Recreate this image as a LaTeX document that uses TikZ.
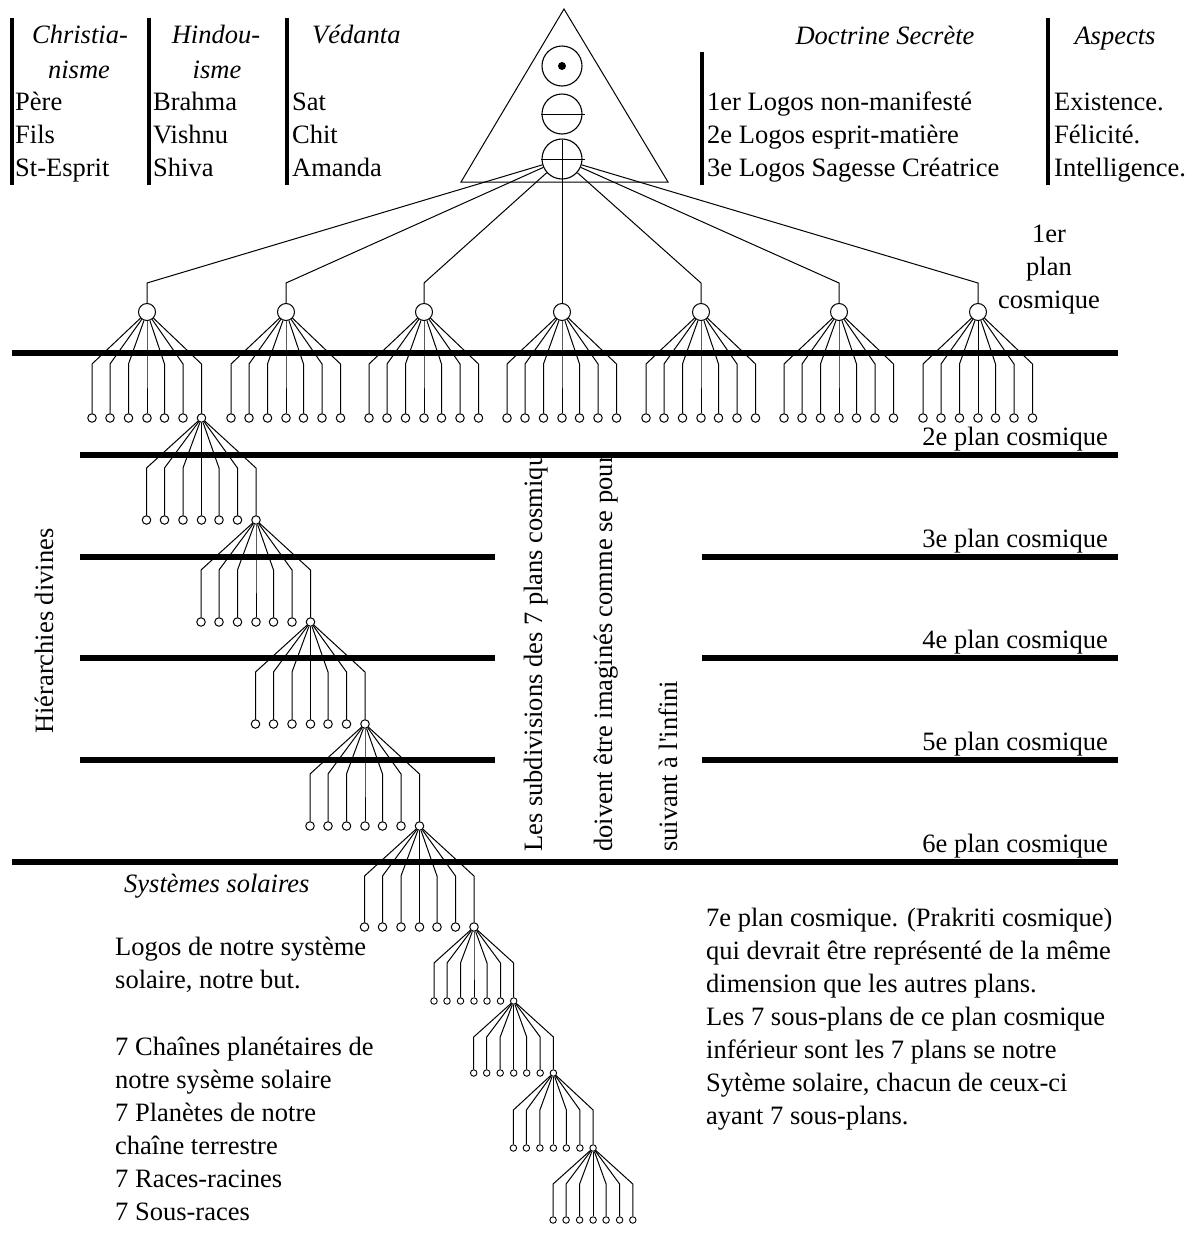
\documentclass[tikz,border=0pt]{standalone}
\usepackage{fontspec}
\setmainfont{Liberation Serif}
\tikzset{
  T/.style={font=\fontsize{26.5}{31}\selectfont, inner sep=0pt},
  tl/.style={T, anchor=base west},
  tc/.style={T, anchor=base},
  tr/.style={T, anchor=base east},
  hd/.style={T, anchor=base, font=\fontsize{26.5}{31}\selectfont\itshape},
  vt/.style={T, rotate=90, anchor=base west},
  bar/.style={line width=4.5pt},
  plane/.style={line width=6pt},
  ln/.style={line width=1pt},
  topn/.style={circle, draw, fill=white, line width=1pt, inner sep=0pt, minimum size=17pt},
  leafL/.style={circle, draw, fill=white, line width=1pt, inner sep=0pt, minimum size=8.5pt},
  leafS/.style={circle, draw, fill=white, line width=0.9pt, inner sep=0pt, minimum size=6.5pt},
  big/.style={circle, draw, line width=1.1pt, inner sep=0pt, minimum size=40pt},
}
\def\bigdx{-55,-37,-18.5,0,17.5,36,54.5}
\def\smalldx{-40,-27,-13.5,0,13,26.5,39.7}
% #1 prefix, #2 parent, #3 dx list, #4 elbow dy, #5 leaf dy, #6 leaf style
\newcommand\drawfan[6]{%
  \foreach \d [count=\i] in #3 {%
    \coordinate (#1e\i) at ([shift={(\d,#4)}]#2.center);
    \node[#6] (#1l\i) at ([shift={(\d,#5)}]#2.center) {};
    \draw[ln] (#2) -- (#1e\i) -- (#1l\i);
  }%
}
\begin{document}
\begin{tikzpicture}[x=1pt,y=-1pt]
\useasboundingbox (0,0) rectangle (1196,1256);

% ---------- header bars ----------
\draw[bar] (12,18) -- (12,185);
\draw[bar] (149,18) -- (149,185);
\draw[bar] (287,18) -- (287,185);
\draw[bar] (702,52) -- (702,185);
\draw[bar] (1048,18) -- (1048,185);

% ---------- header texts ----------
\node[hd] (h1a) at (80,43) {Christia-};
\node[hd] (h1b) at (79,78) {nisme};
\node[hd] (h2a) at (216,43) {Hindou-};
\node[hd] (h2b) at (217,78) {isme};
\node[hd, anchor=base west] (h3) at (312,43) {Védanta};
\node[hd] (h4) at (885,44) {Doctrine Secrète};
\node[hd] (h5) at (1115,44) {Aspects};

\node[tl] (a1) at (15,110) {Père};
\node[tl] (a2) at (15,143) {Fils};
\node[tl] (a3) at (15,176) {St-Esprit};
\node[tl] (b1) at (153,110) {Brahma};
\node[tl] (b2) at (153,143) {Vishnu};
\node[tl] (b3) at (153,176) {Shiva};
\node[tl] (d1) at (292,110) {Sat};
\node[tl] (d2) at (292,143) {Chit};
\node[tl] (d3) at (292,176) {Amanda};
\node[tl] (s1) at (707,110) {1er Logos non-manifesté};
\node[tl] (s2) at (707,143) {2e Logos esprit-matière};
\node[tl] (s3) at (707,176) {3e Logos Sagesse Créatrice};
\node[tl] (p1) at (1054,110) {Existence.};
\node[tl] (p2) at (1054,143) {Félicité.};
\node[tl] (p3) at (1054,176) {Intelligence.};

% ---------- triangle ----------
\draw[ln, line join=miter] (564,9) -- (668,182) -- (461,182) -- cycle;
\node[big] (c1) at (562,66) {};
\node[circle, fill, inner sep=0pt, minimum size=8pt] (dot) at (562,66) {};
\node[big] (c2) at (562,114) {};
\draw[ln] (c2.west) -- ([xshift=2pt]c2.east);
\node[big] (c3) at (562,159) {};
\draw[ln] (c3.west) -- ([xshift=2pt]c3.east);
\coordinate (c3top) at (562,140);

% ---------- cosmic planes ----------
\draw[plane] (12,353) -- (1118,353);
\draw[plane] (80,455) -- (1118,455);
\foreach \y in {557,658,760} {
  \draw[plane] (80,\y) -- (495,\y);
  \draw[plane] (702,\y) -- (1118,\y);
}
\draw[plane] (12,862) -- (1118,862);

% ---------- top level ----------
\foreach \x [count=\k] in {147,286,424,562,701,839,978} {
  \node[topn] (T\k) at (\x,312) {};
  \coordinate (E\k) at (\x,283);
}
\foreach \k in {1,2,3,5,6,7} {\draw[ln] (c3) -- (E\k) -- (T\k);}
\draw[ln] (c3top) -- (T4);

\foreach \k in {1,...,7} {\drawfan{T\k}{T\k}{\bigdx}{52}{106}{leafL}}

% ---------- descending chain ----------
\drawfan{A}{T1l7}{\bigdx}{50}{102}{leafL}
\drawfan{B}{Al7}{\bigdx}{50}{102}{leafL}
\drawfan{C}{Bl7}{\bigdx}{50}{102}{leafL}
\drawfan{D}{Cl7}{\bigdx}{50}{102}{leafL}
\drawfan{F}{Dl7}{\bigdx}{50}{101}{leafL}
\drawfan{G}{Fl7}{\smalldx}{36}{74}{leafS}
\drawfan{H}{Gl7}{\smalldx}{36}{72}{leafS}
\drawfan{J}{Hl7}{\smalldx}{37}{75}{leafS}
\drawfan{K}{Jl7}{\smalldx}{36}{72}{leafS}

% ---------- plane labels ----------
\node[tc] (q1a) at (1049,242) {1er};
\node[tc] (q1b) at (1049,275) {plan};
\node[tc] (q1c) at (1049,308) {cosmique};
\node[tr] (q2) at (1108,445) {2e plan cosmique};
\node[tr] (q3) at (1108,547) {3e plan cosmique};
\node[tr] (q4) at (1108,648) {4e plan cosmique};
\node[tr] (q5) at (1108,750) {5e plan cosmique};
\node[tr] (q6) at (1108,852) {6e plan cosmique};

% ---------- vertical texts ----------
\node[vt] (hier) at (53,734) {Hiérarchies divines};
\begin{scope}
  \clip (500,458) rectangle (700,880);
  \node[vt] (v1) at (542,852) {Les subdivisions des 7 plans cosmiques};
  \node[vt] (v2) at (612,852) {doivent être imaginés comme se pour};
\end{scope}
\node[vt] (v3) at (677,852) {suivant à l\textquotesingle infini};

% ---------- bottom left ----------
\node[hd, anchor=base west] (ss) at (124,892) {Systèmes solaires};
\node[tl] (L1) at (115,955) {Logos de notre système};
\node[tl] (L2) at (115,988) {solaire, notre but.};
\node[tl] (L3) at (115,1055) {7 Chaînes planétaires de};
\node[tl] (L4) at (115,1088) {notre sysème solaire};
\node[tl] (L5) at (115,1121) {7 Planètes de notre};
\node[tl] (L6) at (115,1154) {chaîne terrestre};
\node[tl] (L7) at (115,1187) {7 Races-racines};
\node[tl] (L8) at (115,1220) {7 Sous-races};

% ---------- bottom right ----------
\node[tl] (R1) at (706,926) {7e plan cosmique. (Prakriti cosmique)};
\node[tl] (R2) at (706,959) {qui devrait être représenté de la même};
\node[tl] (R3) at (706,992) {dimension que les autres plans.};
\node[tl] (R4) at (706,1025) {Les 7 sous-plans de ce plan cosmique};
\node[tl] (R5) at (706,1058) {inférieur sont les 7 plans se notre};
\node[tl] (R6) at (706,1091) {Sytème solaire, chacun de ceux-ci};
\node[tl] (R7) at (706,1124) {ayant 7 sous-plans.};
\end{tikzpicture}
\end{document}
